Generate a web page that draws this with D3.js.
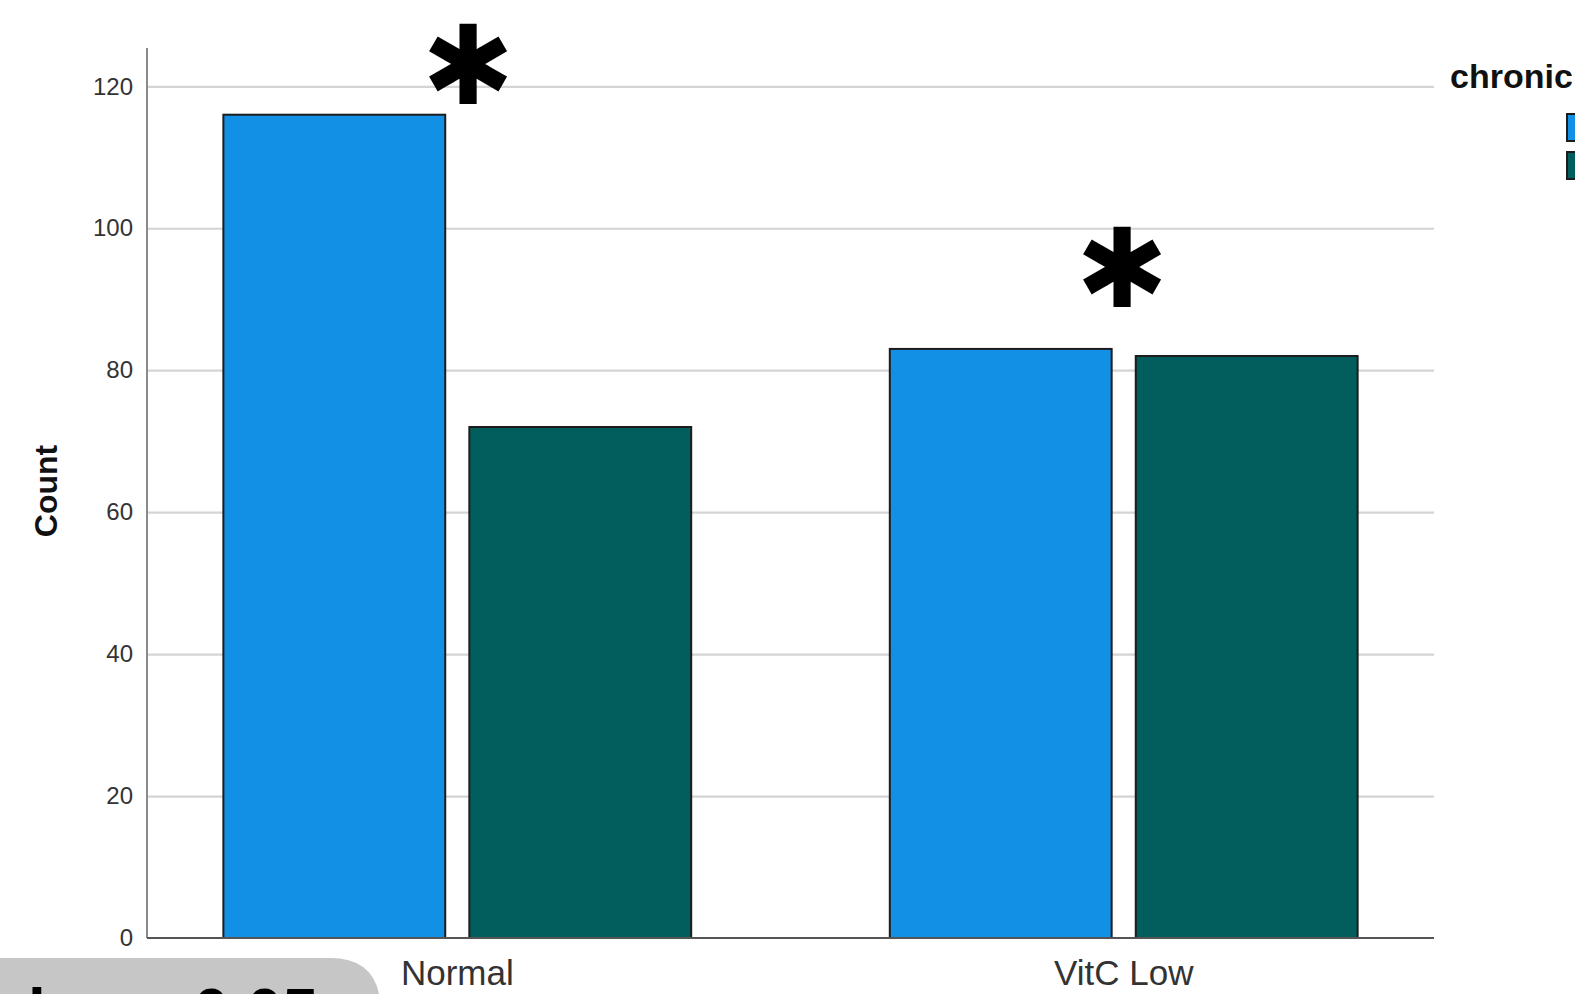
<!DOCTYPE html>
<html>
<head>
<meta charset="utf-8">
<script src="https://cdn.jsdelivr.net/npm/d3@7/dist/d3.min.js"></script>
<style>
  html, body { margin: 0; padding: 0; background: #fff; }
  svg { display: block; }
  text { font-family: "Liberation Sans", Arial, sans-serif; }
</style>
</head>
<body>
<svg id="chart" width="1575" height="994"></svg>
<script>
// Grouped counts by vitamin C status and chronic condition
const categories = ["Normal", "VitC Low"];
const seriesNames = ["No", "Yes"];
const seriesColors = ["#1290e6", "#025e5c"];
const countsNo = [116, 83];
const countsYes = [72, 82];
const yTicks = [0, 20, 40, 60, 80, 100, 120];
// significance stars: group, height on the count scale, small horizontal nudge
const starCats = ["Normal", "VitC Low"];
const starLevels = [123.3, 94.6];
const starNudge = [11, -2];

const svg = d3.select("#chart");
svg.append("rect").attr("width", 1575).attr("height", 994).attr("fill", "#fff");

const plotLeft = 147, plotRight = 1434, plotTop = 48, plotBottom = 938;

const y = d3.scaleLinear().domain([0, 125.4]).range([plotBottom, plotTop]);
const x0 = d3.scaleBand().domain(categories).range([plotLeft, plotRight])
  .paddingInner(0.298).paddingOuter(0.1146);
const x1 = d3.scaleBand().domain(seriesNames).range([0, x0.bandwidth()])
  .paddingInner(0.098).paddingOuter(0);
const color = d3.scaleOrdinal().domain(seriesNames).range(seriesColors);

// gridlines
const grid = svg.append("g").attr("transform", `translate(${plotLeft},0)`)
  .call(d3.axisLeft(y).tickValues(yTicks.filter(d => d > 0)).tickSize(-(plotRight - plotLeft)).tickFormat(""));
grid.select(".domain").remove();
grid.selectAll("line").attr("stroke", "#d4d4d4").attr("stroke-width", 2.2);

// y axis labels
const ya = svg.append("g").attr("transform", `translate(${plotLeft},0)`)
  .call(d3.axisLeft(y).tickValues(yTicks).tickSize(0).tickPadding(14));
ya.select(".domain").remove();
ya.selectAll("text").attr("font-size", 24).attr("fill", "#333")
  .attr("font-family", "'Liberation Sans', Arial, sans-serif");

// bars
const rows = categories.map((c, i) => ({ cat: c, values: [
  { key: seriesNames[0], value: countsNo[i] },
  { key: seriesNames[1], value: countsYes[i] } ] }));

svg.append("g").selectAll("g").data(rows).join("g")
  .attr("transform", d => `translate(${x0(d.cat)},0)`)
  .selectAll("rect").data(d => d.values).join("rect")
  .attr("x", d => x1(d.key))
  .attr("y", d => y(d.value))
  .attr("width", x1.bandwidth())
  .attr("height", d => y(0) - y(d.value))
  .attr("fill", d => color(d.key))
  .attr("stroke", "#1c1c1c")
  .attr("stroke-width", 2);

// axis lines
svg.append("line").attr("x1", plotLeft).attr("x2", plotLeft).attr("y1", plotTop).attr("y2", plotBottom)
  .attr("stroke", "#8a8a8a").attr("stroke-width", 2);
svg.append("line").attr("x1", plotLeft).attr("x2", plotRight).attr("y1", plotBottom).attr("y2", plotBottom)
  .attr("stroke", "#555").attr("stroke-width", 2);

// x axis labels
const xa = svg.append("g").attr("transform", `translate(0,${plotBottom})`)
  .call(d3.axisBottom(x0).tickSize(0).tickPadding(22));
xa.select(".domain").remove();
xa.selectAll("text").attr("font-size", 35).attr("fill", "#333")
  .attr("font-family", "'Liberation Sans', Arial, sans-serif");

// y axis title
svg.append("text")
  .attr("transform", `translate(57,491) rotate(-90)`)
  .attr("text-anchor", "middle")
  .attr("font-size", 32).attr("font-weight", "bold").attr("fill", "#111")
  .text("Count");

// significance stars (six-armed heavy asterisk)
starCats.forEach((c, i) => {
  const size = 110;
  svg.append("text")
    .attr("x", x0(c) + x0.bandwidth() / 2 + starNudge[i])
    .attr("y", y(starLevels[i]))
    .attr("dy", "0.37em")
    .attr("text-anchor", "middle")
    .attr("font-family", "'DejaVu Sans', sans-serif")
    .attr("font-size", size)
    .attr("fill", "#000")
    .text("✱");
});

// legend
svg.append("text").attr("x", 1450).attr("y", 88)
  .attr("font-size", 34).attr("font-weight", "bold").attr("fill", "#111")
  .text("chronic");
seriesNames.forEach((s, i) => {
  svg.append("rect").attr("x", 1567).attr("y", 114 + i * 38)
    .attr("width", 24).attr("height", 27)
    .attr("fill", color(s)).attr("stroke", "#1c1c1c").attr("stroke-width", 2);
});

// note box in the lower-left corner
svg.append("path")
  .attr("d", "M-10,958 H330 Q375,958 380,1000 H-10 Z")
  .attr("fill", "#c6c6c6");
svg.append("text").attr("x", 318).attr("y", 1034)
  .attr("text-anchor", "end")
  .attr("font-size", 64).attr("font-weight", "bold").attr("fill", "#000")
  .text("p-value < 0.05");
</script>
</body>
</html>
